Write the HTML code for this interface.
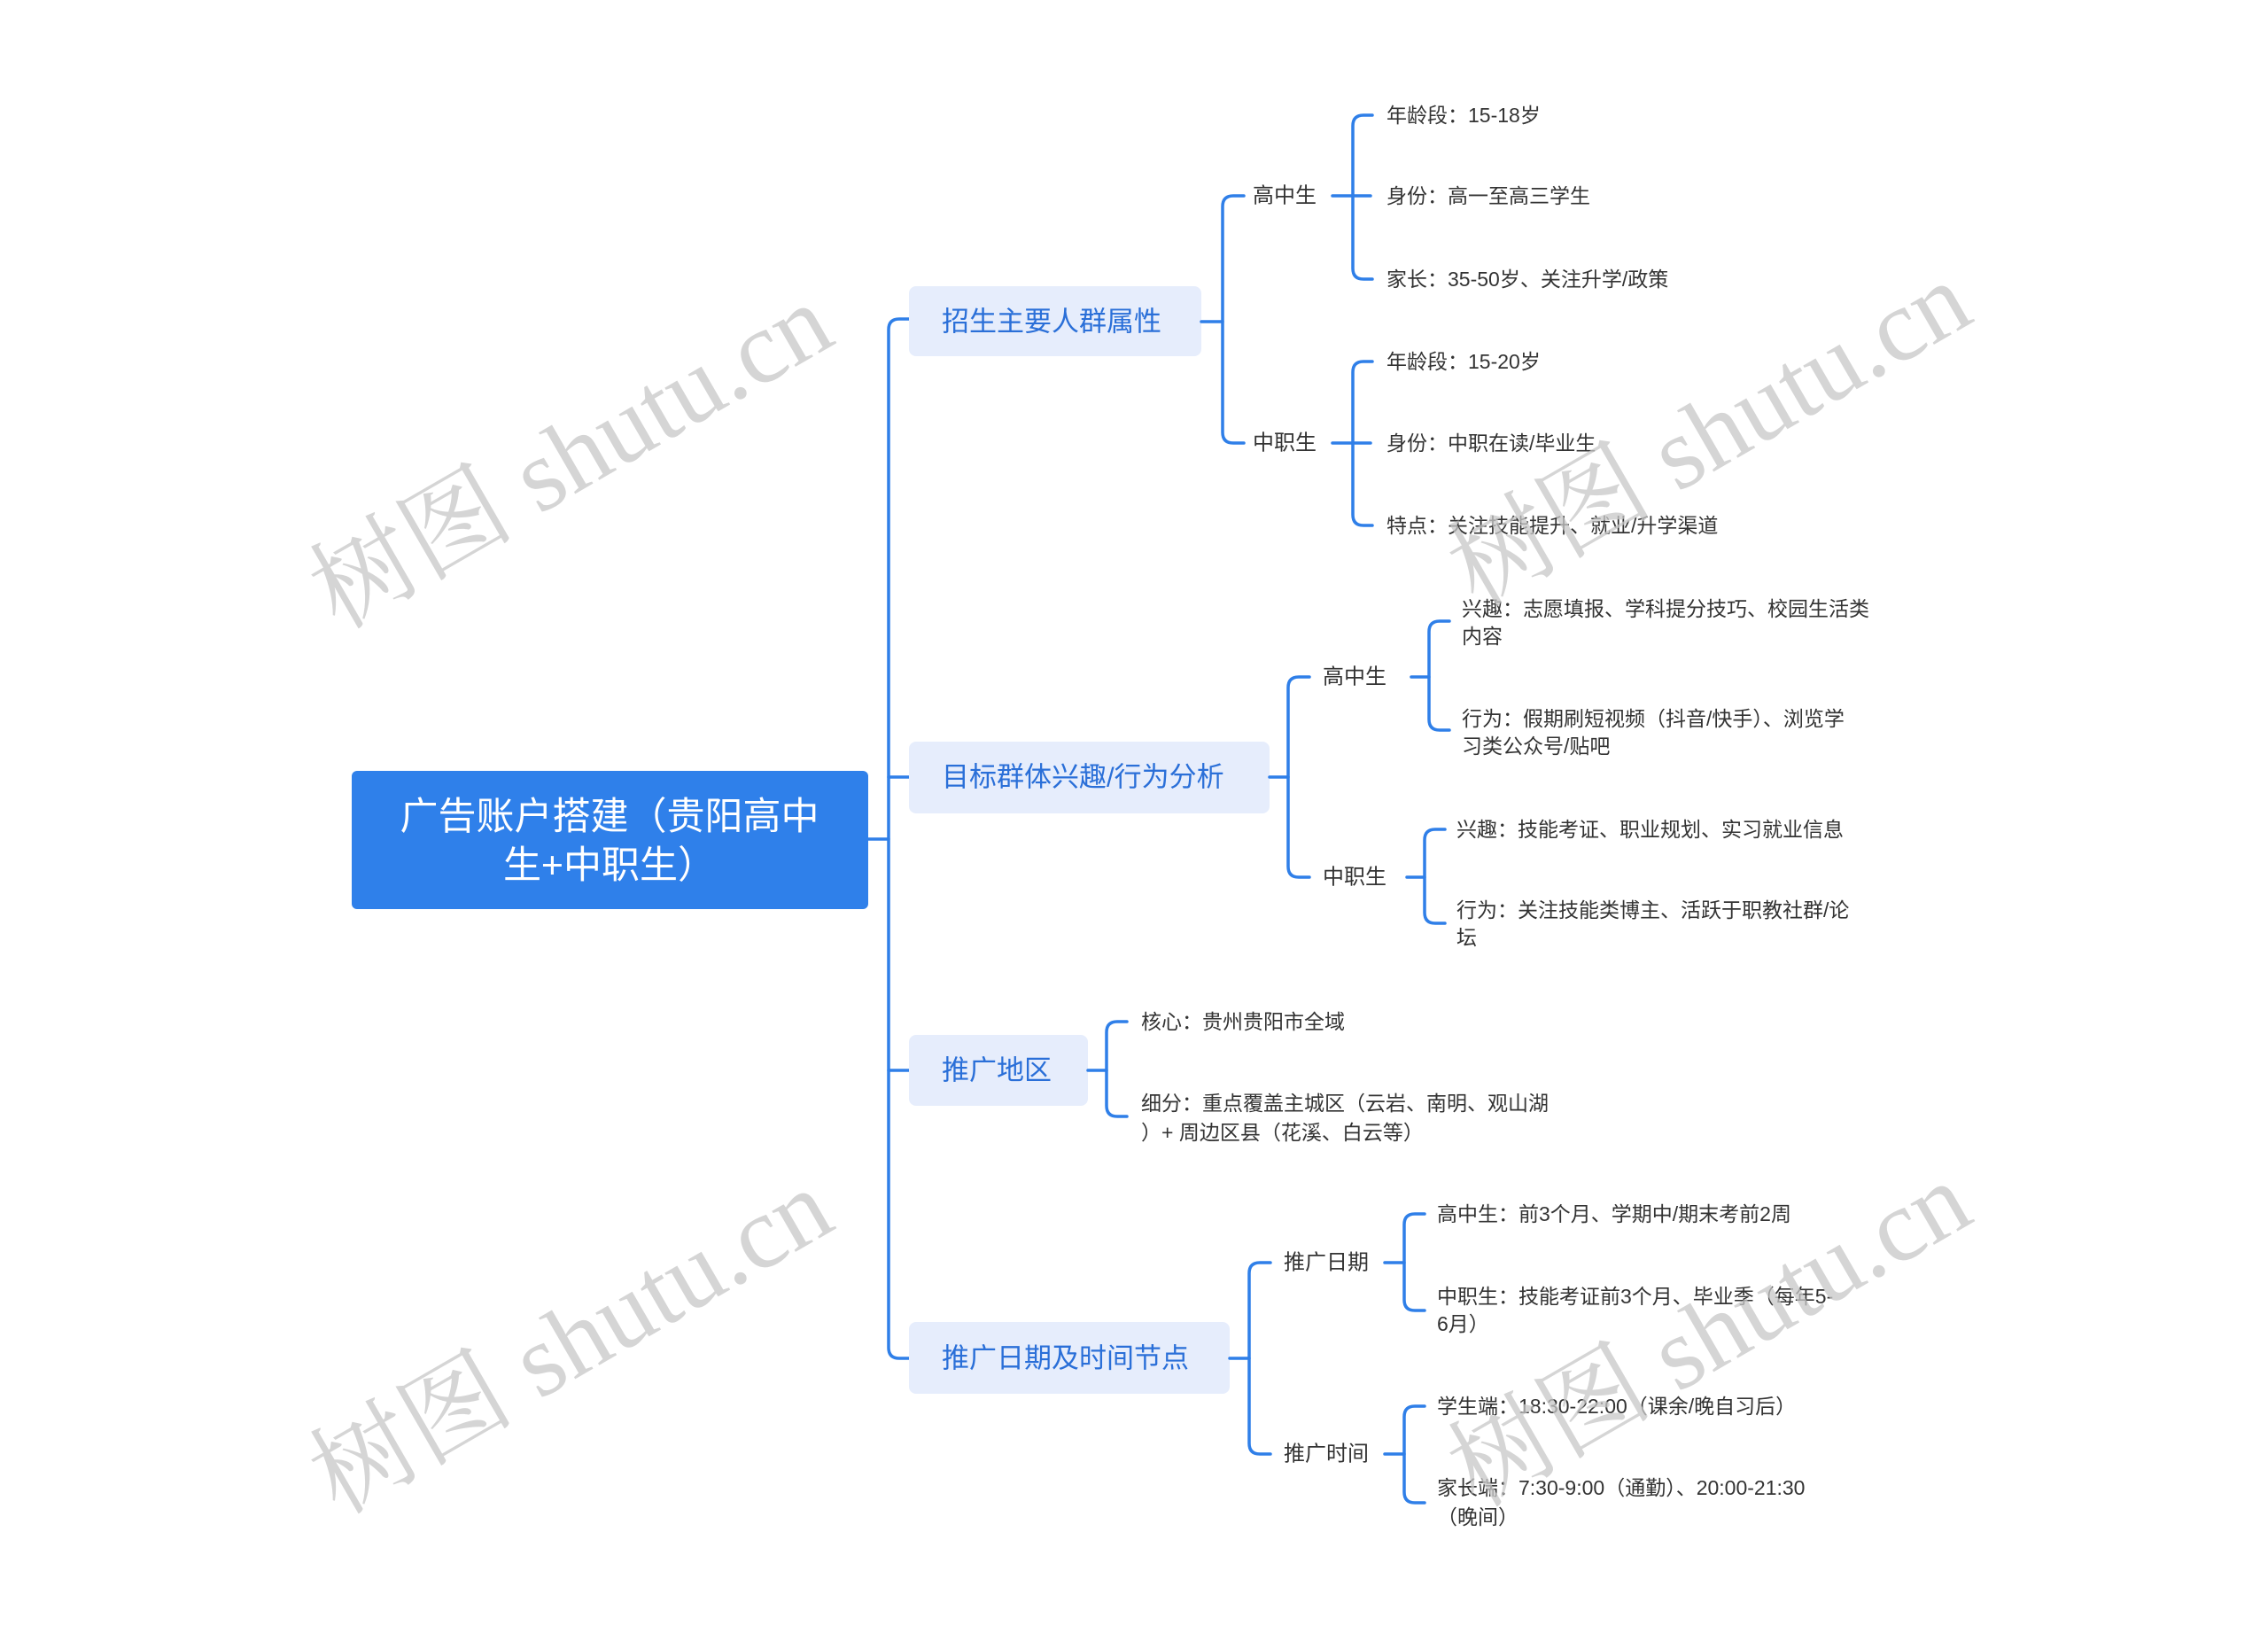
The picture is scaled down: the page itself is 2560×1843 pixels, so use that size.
<!DOCTYPE html>
<html><head><meta charset="utf-8"><style>
html,body{margin:0;padding:0;background:#fff;}
svg{display:block;font-family:"Liberation Sans","Noto Sans CJK SC",sans-serif;}
.lf{font-size:23px;fill:#333;}
.l2{font-size:24px;fill:#333;}
.br{font-size:31px;fill:#2a6fd8;}
.wm{font-size:116px;fill:#c8c8c8;opacity:.75;font-family:"Liberation Serif","Noto Serif CJK SC",serif;}
path,line{stroke:#2f7fe8;stroke-width:3.5;fill:none;stroke-linecap:round;}
</style></head><body>
<svg width="2560" height="1843" viewBox="0 0 2560 1843">
<g transform="translate(-4,-3)">
<!-- trunk -->
<line x1="984" y1="950" x2="1007" y2="950"/>
<path d="M1030 363 H1019 Q1007 363 1007 375 V1524 Q1007 1536 1019 1536 H1030"/>
<line x1="1007" y1="880" x2="1030" y2="880"/>
<line x1="1007" y1="1211" x2="1030" y2="1211"/>

<!-- root -->
<rect x="401" y="873" width="583" height="156" rx="6" fill="#2f80ea"/>
<text x="692" y="925" font-size="43" fill="#fff" text-anchor="middle" dominant-baseline="central">广告账户搭建（贵阳高中</text>
<text x="692" y="980" font-size="43" fill="#fff" text-anchor="middle" dominant-baseline="central">生+中职生）</text>

<!-- branches -->
<rect x="1030" y="326" width="330" height="79" rx="8" fill="#e6edfc"/>
<text class="br" x="1067" y="366" dominant-baseline="central">招生主要人群属性</text>
<rect x="1030" y="840" width="407" height="81" rx="8" fill="#e6edfc"/>
<text class="br" x="1067" y="880" dominant-baseline="central">目标群体兴趣/行为分析</text>
<rect x="1030" y="1171" width="202" height="80" rx="8" fill="#e6edfc"/>
<text class="br" x="1067" y="1211" dominant-baseline="central">推广地区</text>
<rect x="1030" y="1495" width="362" height="81" rx="8" fill="#e6edfc"/>
<text class="br" x="1067" y="1536" dominant-baseline="central">推广日期及时间节点</text>

<!-- branch1 -->
<line x1="1360" y1="366" x2="1384" y2="366"/>
<path d="M1408 224 H1396 Q1384 224 1384 236 V491 Q1384 503 1396 503 H1408"/>
<text class="l2" x="1418" y="224" dominant-baseline="central">高中生</text>
<text class="l2" x="1418" y="503" dominant-baseline="central">中职生</text>
<line x1="1508" y1="224" x2="1551" y2="224"/>
<path d="M1553 133 H1543 Q1531 133 1531 145 V306 Q1531 318 1543 318 H1553"/>
<text class="lf" x="1569" y="133" dominant-baseline="central">年龄段：15-18岁</text>
<text class="lf" x="1569" y="224" dominant-baseline="central">身份：高一至高三学生</text>
<text class="lf" x="1569" y="318" dominant-baseline="central">家长：35-50岁、关注升学/政策</text>
<line x1="1508" y1="503" x2="1551" y2="503"/>
<path d="M1553 411 H1543 Q1531 411 1531 423 V584 Q1531 596 1543 596 H1553"/>
<text class="lf" x="1569" y="411" dominant-baseline="central">年龄段：15-20岁</text>
<text class="lf" x="1569" y="503" dominant-baseline="central">身份：中职在读/毕业生</text>
<text class="lf" x="1569" y="596" dominant-baseline="central">特点：关注技能提升、就业/升学渠道</text>

<!-- branch2 -->
<line x1="1437" y1="880" x2="1458" y2="880"/>
<path d="M1482 767 H1470 Q1458 767 1458 779 V981 Q1458 993 1470 993 H1482"/>
<text class="l2" x="1497" y="767" dominant-baseline="central">高中生</text>
<text class="l2" x="1497" y="993" dominant-baseline="central">中职生</text>
<line x1="1597" y1="767" x2="1617" y2="767"/>
<path d="M1640 704 H1629 Q1617 704 1617 716 V815 Q1617 827 1629 827 H1640"/>
<text class="lf" x="1654" y="690" dominant-baseline="central">兴趣：志愿填报、学科提分技巧、校园生活类</text>
<text class="lf" x="1654" y="721" dominant-baseline="central">内容</text>
<text class="lf" x="1654" y="814" dominant-baseline="central">行为：假期刷短视频（抖音/快手）、浏览学</text>
<text class="lf" x="1654" y="845" dominant-baseline="central">习类公众号/贴吧</text>
<line x1="1592" y1="993" x2="1612" y2="993"/>
<path d="M1635 939 H1624 Q1612 939 1612 951 V1033 Q1612 1045 1624 1045 H1635"/>
<text class="lf" x="1648" y="939" dominant-baseline="central">兴趣：技能考证、职业规划、实习就业信息</text>
<text class="lf" x="1648" y="1030" dominant-baseline="central">行为：关注技能类博主、活跃于职教社群/论</text>
<text class="lf" x="1648" y="1061" dominant-baseline="central">坛</text>

<!-- branch3 -->
<line x1="1232" y1="1211" x2="1253" y2="1211"/>
<path d="M1276 1156 H1265 Q1253 1156 1253 1168 V1251 Q1253 1263 1265 1263 H1276"/>
<text class="lf" x="1292" y="1156" dominant-baseline="central">核心：贵州贵阳市全域</text>
<text class="lf" x="1292" y="1248" dominant-baseline="central">细分：重点覆盖主城区（云岩、南明、观山湖</text>
<text class="lf" x="1292" y="1281" dominant-baseline="central">）+ 周边区县（花溪、白云等）</text>

<!-- branch4 -->
<line x1="1392" y1="1536" x2="1414" y2="1536"/>
<path d="M1438 1428 H1426 Q1414 1428 1414 1440 V1632 Q1414 1644 1426 1644 H1438"/>
<text class="l2" x="1453" y="1428" dominant-baseline="central">推广日期</text>
<text class="l2" x="1453" y="1644" dominant-baseline="central">推广时间</text>
<line x1="1567" y1="1428" x2="1589" y2="1428"/>
<path d="M1612 1373 H1601 Q1589 1373 1589 1385 V1470 Q1589 1482 1601 1482 H1612"/>
<text class="lf" x="1626" y="1373" dominant-baseline="central">高中生：前3个月、学期中/期末考前2周</text>
<text class="lf" x="1626" y="1466" dominant-baseline="central">中职生：技能考证前3个月、毕业季（每年5-</text>
<text class="lf" x="1626" y="1497" dominant-baseline="central">6月）</text>
<line x1="1567" y1="1644" x2="1589" y2="1644"/>
<path d="M1612 1590 H1601 Q1589 1590 1589 1602 V1687 Q1589 1699 1601 1699 H1612"/>
<text class="lf" x="1626" y="1590" dominant-baseline="central">学生端：18:30-22:00（课余/晚自习后）</text>
<text class="lf" x="1626" y="1682" dominant-baseline="central">家长端：7:30-9:00（通勤）、20:00-21:30</text>
<text class="lf" x="1626" y="1715" dominant-baseline="central">（晚间）</text>
</g>

<!-- watermarks -->
<text class="wm" x="645" y="516" text-anchor="middle" dominant-baseline="central" transform="rotate(-30 645 516)">树图 shutu.cn</text>
<text class="wm" x="1930" y="491" text-anchor="middle" dominant-baseline="central" transform="rotate(-30 1930 491)">树图 shutu.cn</text>
<text class="wm" x="645" y="1515" text-anchor="middle" dominant-baseline="central" transform="rotate(-30 645 1515)">树图 shutu.cn</text>
<text class="wm" x="1930" y="1507" text-anchor="middle" dominant-baseline="central" transform="rotate(-30 1930 1507)">树图 shutu.cn</text>
</svg>
</body></html>
